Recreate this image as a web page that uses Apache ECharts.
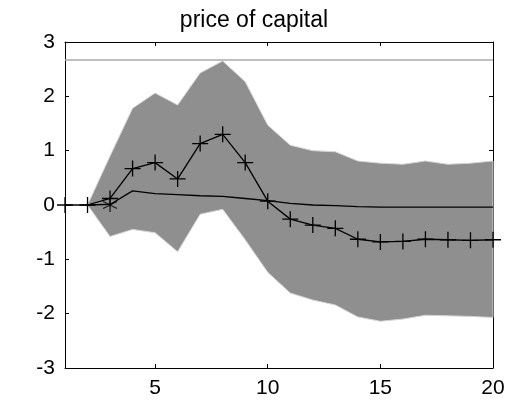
<!DOCTYPE html>
<html><head><meta charset="utf-8">
<title>price of capital</title>
<script src="https://cdn.jsdelivr.net/npm/echarts@6/dist/echarts.min.js"></script>
<style>
  html, body { margin:0; padding:0; background:#fff; }
  #chart { width:508px; height:409px; }
</style>
</head>
<body>
<div id="chart"></div>
<script>
// horizons
var steps = [1,2,3,4,5,6,7,8,9,10,11,12,13,14,15,16,17,18,19,20];
// response with + markers
var pointEst = [0,0,0.12,0.67,0.78,0.48,1.13,1.30,0.78,0.07,-0.26,-0.37,-0.43,-0.63,-0.68,-0.67,-0.63,-0.64,-0.65,-0.64];
// solid (median) line, from step 2
var median = [null,0,0.01,0.26,0.21,0.19,0.17,0.16,0.12,0.08,0.03,0.0,-0.01,-0.03,-0.04,-0.04,-0.04,-0.04,-0.04,-0.04];
// band, from step 2
var upper = [null,0,0.9,1.78,2.06,1.84,2.43,2.65,2.27,1.47,1.10,1.0,0.98,0.81,0.77,0.75,0.81,0.75,0.77,0.81];
var lower = [null,0,-0.58,-0.45,-0.51,-0.86,-0.17,-0.08,-0.64,-1.24,-1.62,-1.75,-1.84,-2.06,-2.14,-2.10,-2.03,-2.04,-2.05,-2.07];
var refLevel = 2.67;
var starPoint = [3, 0];
var xTicks = [5,10,15,20];

function pairs(ys){
  var out = [];
  for (var i = 0; i < steps.length; i++) if (ys[i] !== null) out.push([steps[i], ys[i]]);
  return out;
}

var bandUp = pairs(upper), bandLo = pairs(lower);

var chart = echarts.init(document.getElementById('chart'));
var font = 'Liberation Sans, Arial, sans-serif';

function xAxisDef(pos, labels){
  return {
    type: 'value', min: 1, max: 20, position: pos,
    splitLine: { show: false },
    axisLine: { show: true, onZero: false, lineStyle: { color: '#000', width: 1 } },
    axisTick: { inside: true, length: 4, customValues: xTicks, lineStyle: { color: '#000' } },
    axisLabel: { show: labels, customValues: xTicks, fontFamily: font, fontSize: 21, color: '#000', margin: 10 }
  };
}
function yAxisDef(pos, labels){
  return {
    type: 'value', min: -3, max: 3, interval: 1, position: pos,
    splitLine: { show: false },
    axisLine: { show: true, onZero: false, lineStyle: { color: '#000', width: 1 } },
    axisTick: { show: true, inside: true, length: 4, lineStyle: { color: '#000' } },
    axisLabel: { show: labels, fontFamily: font, fontSize: 21, color: '#000', margin: 10 }
  };
}

var option = {
  animation: false,
  title: {
    text: 'price of capital', left: 'center', top: 4,
    textStyle: { fontFamily: font, fontSize: 23, fontWeight: 'normal', color: '#000' }
  },
  grid: { left: 65, right: 15, top: 42, bottom: 41 },
  xAxis: [xAxisDef('bottom', true), xAxisDef('top', false)],
  yAxis: [yAxisDef('left', true), yAxisDef('right', false)],
  series: [{
    type: 'custom',
    data: [0],
    z: 1,
    renderItem: function (params, api) {
      var pts = [];
      bandUp.forEach(function (p) { pts.push(api.coord(p)); });
      for (var i = bandLo.length - 1; i >= 0; i--) pts.push(api.coord(bandLo[i]));
      return {
        type: 'polygon',
        shape: { points: pts },
        style: { fill: '#8f8f8f', stroke: '#d4d4d4', lineWidth: 1 }
      };
    }
  }, {
    type: 'line',
    data: pairs(median),
    z: 3,
    symbol: 'none',
    lineStyle: { color: '#000', width: 1.3 }
  }, {
    type: 'line',
    data: pairs(pointEst),
    z: 4,
    clip: false,
    symbol: 'path://M-1,0L1,0M0,-1L0,1',
    symbolSize: 16,
    itemStyle: { color: 'none', borderColor: '#000', borderWidth: 1.3 },
    lineStyle: { color: '#000', width: 1.3 }
  }, {
    type: 'scatter',
    data: [starPoint],
    z: 5,
    symbol: 'path://M0,-1L0,1M-0.87,-0.5L0.87,0.5M-0.87,0.5L0.87,-0.5',
    symbolSize: 14,
    itemStyle: { color: 'none', borderColor: '#000', borderWidth: 1.3 }
  }, {
    type: 'line',
    data: [[1, refLevel], [20, refLevel]],
    z: 6,
    symbol: 'none',
    lineStyle: { color: '#aaaaaa', width: 1.5 }
  }]
};

chart.setOption(option);
</script>
</body></html>
